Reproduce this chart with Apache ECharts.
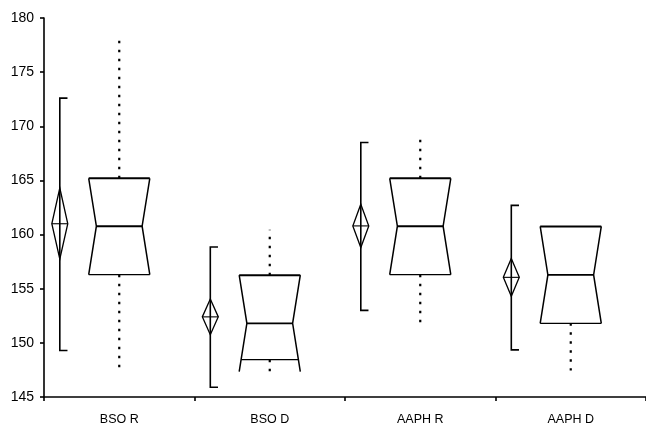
<!DOCTYPE html>
<html>
<head>
<meta charset="utf-8">
<script src="https://cdn.jsdelivr.net/npm/echarts@6/dist/echarts.min.js"></script>
<style>
html,body{margin:0;padding:0;background:#fff;}
#chart{width:646px;height:426px;}
</style>
</head>
<body>
<div id="chart"></div>
<script>
var categories = ['BSO R', 'BSO D', 'AAPH R', 'AAPH D'];
var yTicks = [145, 150, 155, 160, 165, 170, 175, 180];
// mean diamond (mean with CI) and range error bar
var meanVals  = [161.0, 152.4, 160.8, 156.05];
var ciLow     = [157.75, 150.75, 158.8, 154.3];
var ciHigh    = [164.3, 154.05, 162.8, 157.8];
var rangeLow  = [149.3, 145.9, 153.0, 149.35];
var rangeHigh = [172.6, 158.85, 168.5, 162.7];
// notched box plot
var whiskerLow  = [147.4, 147.35, 151.9, 147.45];
var q1Vals      = [156.3, 148.45, 156.3, 151.8];
var medianVals  = [160.77, 151.8, 160.77, 156.27];
var q3Vals      = [165.2, 156.25, 165.2, 160.75];
var whiskerHigh = [178.05, 160.45, 169.35, 160.75];
var notchLow    = [156.3, 147.35, 156.3, 151.8];
var notchHigh   = [165.2, 156.25, 165.2, 160.75];

var data = categories.map(function (c, i) {
  return [i, meanVals[i], ciLow[i], ciHigh[i], rangeLow[i], rangeHigh[i],
          whiskerLow[i], q1Vals[i], medianVals[i], q3Vals[i], whiskerHigh[i],
          notchLow[i], notchHigh[i]];
});

function renderItem(params, api) {
  var idx = api.value(0);
  var cw = api.size([1, 0])[0];
  var cx = api.coord([idx, 160])[0];
  function Y(v) { return api.coord([idx, v])[1]; }
  var mean = api.value(1), cl = api.value(2), ch = api.value(3);
  var rl = api.value(4), rh = api.value(5);
  var wl = api.value(6), q1 = api.value(7), med = api.value(8), q3 = api.value(9), wh = api.value(10);
  var nl = api.value(11), nh = api.value(12);

  var dx = cx - 0.395 * cw;
  var dw = 0.053 * cw;
  var tick = 0.051 * cw;
  var bw = 0.203 * cw;
  var nw = 0.152 * cw;
  var col = '#000';
  var children = [];

  // range error bar
  children.push({ type: 'polyline', shape: { points: [[dx + tick, Y(rh)], [dx, Y(rh)], [dx, Y(rl)], [dx + tick, Y(rl)]] },
    style: { stroke: col, lineWidth: 1.6, fill: null } });
  // diamond
  children.push({ type: 'polygon', shape: { points: [[dx, Y(ch)], [dx + dw, Y(mean)], [dx, Y(cl)], [dx - dw, Y(mean)]] },
    style: { stroke: col, lineWidth: 1.3, fill: null } });
  children.push({ type: 'line', shape: { x1: dx - dw, y1: Y(mean), x2: dx + dw, y2: Y(mean) },
    style: { stroke: col, lineWidth: 1.1 } });

  // whiskers (dotted)
  if (wh > q3) {
    children.push({ type: 'line', shape: { x1: cx, y1: Y(q3), x2: cx, y2: Y(wh) },
      style: { stroke: col, lineWidth: 2.2, lineDash: [2.5, 6.5] } });
  }
  if (wl < q1) {
    children.push({ type: 'line', shape: { x1: cx, y1: Y(q1), x2: cx, y2: Y(wl) },
      style: { stroke: col, lineWidth: 2.2, lineDash: [2.5, 6.5] } });
  }

  // notched box sides
  var topV = Math.max(q3, nh), botV = Math.min(q1, nl);
  [-1, 1].forEach(function (s) {
    children.push({ type: 'polyline', shape: { points: [
      [cx + s * bw, Y(topV)], [cx + s * bw, Y(nh)], [cx + s * nw, Y(med)], [cx + s * bw, Y(nl)], [cx + s * bw, Y(botV)]
    ] }, style: { stroke: col, lineWidth: 1.5, fill: null } });
  });
  function halfAt(v) {
    if (v >= nh || v <= nl) return bw;
    if (v >= med) return nw + (bw - nw) * (v - med) / (nh - med);
    return nw + (bw - nw) * (med - v) / (med - nl);
  }
  var h3 = halfAt(q3), h1 = halfAt(q1);
  children.push({ type: 'line', shape: { x1: cx - h3, y1: Y(q3), x2: cx + h3, y2: Y(q3) },
    style: { stroke: col, lineWidth: 1.9 } });
  children.push({ type: 'line', shape: { x1: cx - nw, y1: Y(med), x2: cx + nw, y2: Y(med) },
    style: { stroke: col, lineWidth: 1.8 } });
  children.push({ type: 'line', shape: { x1: cx - h1, y1: Y(q1), x2: cx + h1, y2: Y(q1) },
    style: { stroke: col, lineWidth: 1.4 } });

  return { type: 'group', children: children };
}

var chart = echarts.init(document.getElementById('chart'), null, { renderer: 'canvas' });
chart.setOption({
  backgroundColor: '#fff',
  animation: false,
  grid: { left: 44, top: 18, width: 604, height: 379, containLabel: false },
  xAxis: {
    type: 'category',
    data: categories,
    boundaryGap: true,
    axisLine: { lineStyle: { color: '#000', width: 1.6 } },
    axisTick: { show: true, length: 4, lineStyle: { color: '#000', width: 1.6 } },
    axisLabel: { color: '#000', fontSize: 12.5, fontFamily: 'Liberation Sans, Arial, sans-serif', margin: 16 },
    splitLine: { show: false }
  },
  yAxis: {
    type: 'value',
    min: yTicks[0],
    max: yTicks[yTicks.length - 1],
    interval: 5,
    axisLine: { show: true, lineStyle: { color: '#000', width: 1.6 } },
    axisTick: { show: true, length: 4, lineStyle: { color: '#000', width: 1.6 } },
    axisLabel: { color: '#000', fontSize: 14, fontFamily: 'Liberation Sans, Arial, sans-serif', margin: 10 },
    splitLine: { show: false }
  },
  series: [{
    type: 'custom',
    renderItem: renderItem,
    data: data,
    encode: { x: 0, y: [1, 4, 5, 6, 10] },
    clip: false
  }]
});
</script>
</body>
</html>
